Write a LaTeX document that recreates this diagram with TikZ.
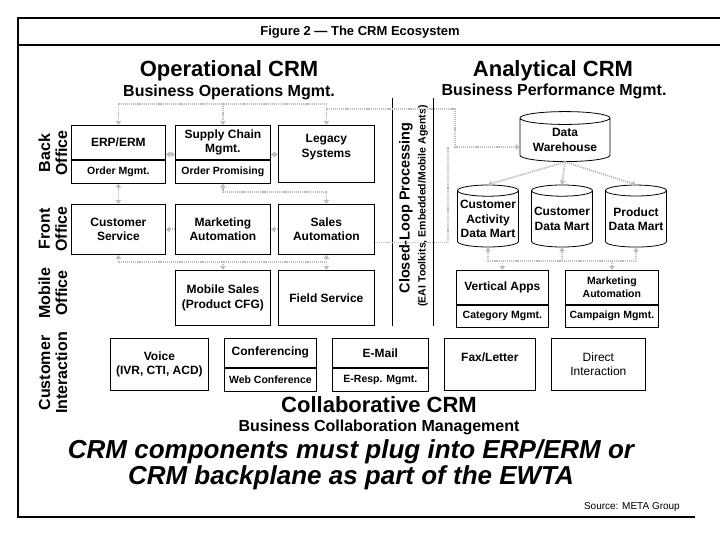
\documentclass[tikz,border=0pt]{standalone}
\usepackage{fontspec}
\setmainfont{Liberation Sans}
\usetikzlibrary{arrows.meta,calc,positioning,shapes.geometric}
\definecolor{flowgray}{gray}{0.74}
\newcommand{\bigsz}{\fontsize{22}{24}\selectfont\bfseries}
\newcommand{\midsz}{\fontsize{16}{17}\selectfont\bfseries}
\newcommand{\boxsz}{\fontsize{12}{14.5}\selectfont\bfseries}
\newcommand{\subsz}{\fontsize{10.5}{12.5}\selectfont\bfseries}

\begin{document}
\begin{tikzpicture}[x=1pt,y=-1pt,
  every node/.style={inner sep=0pt},
  box/.style={draw,line width=0.8pt,align=center,font=\boxsz},
  subbox/.style={draw,line width=0.8pt,align=center,font=\subsz},
  dbcyl/.style={cylinder,shape border rotate=90,draw,line width=0.8pt,aspect=0.2,align=center,font=\boxsz},
  rowlbl/.style={rotate=90,align=center,font=\midsz},
  dotlink/.style={draw=flowgray,line width=1.8pt,dash pattern=on 1.2pt off 0.9pt},
  onehead/.style={-{Triangle[length=4pt,width=5.5pt,fill=flowgray]}},
  twohead/.style={{Triangle[length=4pt,width=5.5pt,fill=flowgray]}-{Triangle[length=4pt,width=5.5pt,fill=flowgray]}}
]
\useasboundingbox (0,0) rectangle (720,540);
\draw[line width=1.2pt] (720,18) -- (18,18) -- (18,517) -- (695,517);
\draw[line width=1.2pt] (18,45) -- (720,45);
\node[font=\fontsize{13}{15}\selectfont\bfseries] (title) at (360,32) {Figure 2 --- The CRM Ecosystem};

\node[font=\bigsz] (opcrm) at (229,71) {Operational CRM};
\node[font=\midsz] (opsub) at (229,92) {Business Operations Mgmt.};
\node[font=\bigsz] (ancrm) at (553,71) {Analytical CRM};
\node[font=\midsz] (ansub) at (554,91) {Business Performance Mgmt.};

\node[rowlbl] (lblback) at (53,153) {Back\\Office};
\node[rowlbl] (lblfront) at (53,229) {Front\\Office};
\node[rowlbl] (lblmobile) at (53,293) {Mobile\\Office};
\node[rowlbl] (lblcust) at (53,373) {Customer\\Interaction};

% back office
\node[box,minimum width=94pt,minimum height=34pt,anchor=north west] (erp) at (71,125) {ERP/ERM};
\node[subbox,minimum width=94pt,minimum height=23pt,below=0pt of erp] (erpsub) {Order Mgmt.};
\node[box,minimum width=95pt,minimum height=34pt,anchor=north west] (scm) at (175,125) {Supply Chain\\Mgmt.};
\node[subbox,minimum width=95pt,minimum height=23pt,below=0pt of scm] (scmsub) {Order Promising};
\node[box,minimum width=96pt,minimum height=57pt,anchor=north west] (legacy) at (278,125) {};
\node[font=\boxsz,align=center] (legacytxt) at ([yshift=7pt]legacy.center) {Legacy\\Systems};

% front office
\node[box,minimum width=94pt,minimum height=50pt,anchor=north west] (custsvc) at (71,204) {Customer\\Service};
\node[box,minimum width=95pt,minimum height=50pt,anchor=north west] (mktauto) at (175,204) {Marketing\\Automation};
\node[box,minimum width=96pt,minimum height=50pt,anchor=north west] (salesauto) at (278,204) {Sales\\Automation};

% mobile office
\node[box,minimum width=95pt,minimum height=55pt,anchor=north west] (mobsales) at (175,270) {Mobile Sales\\(Product CFG)};
\node[box,minimum width=96pt,minimum height=55pt,anchor=north west] (fieldsvc) at (278,270) {Field Service};

% customer interaction
\node[box,minimum width=98pt,minimum height=52pt,anchor=north west] (voice) at (110,338) {Voice\\(IVR, CTI, ACD)};
\node[box,minimum width=92pt,minimum height=29pt,anchor=north west] (conf) at (224,338) {Conferencing};
\node[subbox,minimum width=92pt,minimum height=23pt,below=0pt of conf] (confsub) {Web Conference};
\node[box,minimum width=96pt,minimum height=29pt,anchor=north west] (email) at (332,338) {E-Mail};
\node[subbox,minimum width=96pt,minimum height=23pt,below=0pt of email] (emailsub) {E-Resp. Mgmt.};
\node[box,minimum width=91pt,text height=17pt,text depth=23pt,inner ysep=6pt,anchor=north west] (fax) at (444,338) {Fax/Letter};
\node[box,font=\fontsize{12}{14.5}\selectfont,minimum width=94pt,minimum height=52pt,anchor=north west] (direct) at (551,338) {Direct\\Interaction};

% closed loop
\draw[line width=1pt] (392,98) -- (392,326);
\draw[line width=1pt] (433,98) -- (433,326);
\node[rotate=90,font=\fontsize{14.5}{16}\selectfont\bfseries] (closed) at (406,208) {Closed-Loop Processing};
\node[rotate=90,font=\fontsize{10.5}{12}\selectfont\bfseries] (eai) at (423,206) {(EAI Toolkits, Embedded/Mobile Agents)};

% analytical
\node[dbcyl,minimum width=90pt,minimum height=50pt] (dw) at (565,140) {Data\\Warehouse};
\node[dbcyl,minimum width=61pt,minimum height=62pt] (cadm) at (488,219) {Customer\\Activity\\Data Mart};
\node[dbcyl,minimum width=61pt,minimum height=62pt] (cdm) at (562,219) {Customer\\Data Mart};
\node[dbcyl,minimum width=61pt,minimum height=62pt] (pdm) at (636,219) {Product\\Data Mart};
\node[box,minimum width=92pt,minimum height=34pt,anchor=north west] (vapps) at (456,270) {Vertical Apps};
\node[subbox,minimum width=92pt,minimum height=22pt,below=0pt of vapps] (vappssub) {Category Mgmt.};
\node[subbox,minimum width=93pt,minimum height=34pt,anchor=north west] (mkta) at (565,270) {Marketing\\Automation};
\node[subbox,minimum width=93pt,minimum height=22pt,below=0pt of mkta] (mktasub) {Campaign Mgmt.};

% links
\coordinate (topbus) at (0,104);
\coordinate (dwbend) at (455,109);
\coordinate (salesbend) at (448,147);
\coordinate (backlane) at (0,192);
\coordinate (frontlane) at (0,262);
\coordinate (martlane) at (0,261);
\draw[dotlink] (erp.north |- topbus) -- (legacy.north |- topbus);
\foreach \b in {erp,scm,legacy}
  \draw[dotlink,onehead] (\b.north |- topbus) -- (\b.north);
\draw[dotlink,onehead] (legacy.north |- dwbend) -- (dwbend) |- ([yshift=-7pt]dw.west);
\draw[dotlink] ([yshift=-13pt]salesauto.east) -| (salesbend);
\draw[dotlink,twohead] ([yshift=-12pt]erp.east) -- ([yshift=-12pt]erp.east -| scm.west);
\draw[dotlink,twohead] ([yshift=-12pt]scm.east) -- ([yshift=-12pt]scm.east -| legacy.west);
\draw[dotlink,onehead] (mktauto.west) -- (custsvc.east);
\draw[dotlink,onehead] (salesauto.west) -- (mktauto.east);
\draw[dotlink,twohead] (erpsub.south) -- (custsvc.north);
\draw[dotlink,twohead] (scmsub.south) -- (scmsub.south |- backlane) -| (salesauto.north);
\draw[dotlink] (custsvc.south |- frontlane) -- (salesauto.south |- frontlane);
\foreach \b in {custsvc,salesauto}
  \draw[dotlink,onehead] (\b.south |- frontlane) -- (\b.south);
\foreach \b in {mobsales,fieldsvc}
  \draw[dotlink,onehead] (\b.north |- frontlane) -- (\b.north);
\foreach \m in {cadm,cdm,pdm}
  \draw[dotlink,onehead] (dw.south) -- (\m.north);
\draw[dotlink] (cadm.south |- martlane) -- (pdm.south |- martlane);
\foreach \m in {cadm,cdm,pdm}
  \draw[dotlink,onehead] (\m.south |- martlane) -- (\m.south);
\foreach \m in {vapps,mkta}
  \draw[dotlink,onehead] (\m.north |- martlane) -- (\m.north);

% collaborative
\node[font=\bigsz] (collab) at (379,405) {Collaborative CRM};
\node[font=\midsz] (collabsub) at (379,427) {Business Collaboration Management};
\node[font=\fontsize{26}{26}\selectfont\bfseries\itshape,align=center] (plug) at (351,465) {CRM components must plug into ERP/ERM or\\CRM backplane as part of the EWTA};
\node[font=\fontsize{10}{12}\selectfont,anchor=east] (source) at (680,507) {Source: META Group};
\end{tikzpicture}
\end{document}
